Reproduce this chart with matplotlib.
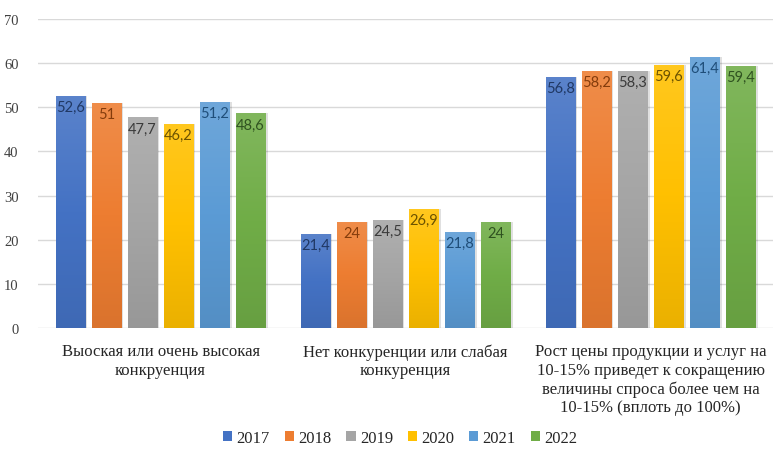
import matplotlib
matplotlib.use("Agg")
import matplotlib.pyplot as plt
import matplotlib.colors as mcolors
import numpy as np

# Data
categories = [
    "Выоская или очень высокая\nконкруенция",
    "Нет конкуренции или слабая\nконкуренция",
    "Рост цены продукции и услуг на\n10-15% приведет к сокращению\nвеличины спроса более чем на\n10-15% (вплоть до 100%)",
]
years = ["2017", "2018", "2019", "2020", "2021", "2022"]
values = {
    "2017": [52.6, 21.4, 56.8],
    "2018": [51.0, 24.0, 58.2],
    "2019": [47.7, 24.5, 58.3],
    "2020": [46.2, 26.9, 59.6],
    "2021": [51.2, 21.8, 61.4],
    "2022": [48.6, 24.0, 59.4],
}
value_labels = {
    "2017": ["52,6", "21,4", "56,8"],
    "2018": ["51", "24", "58,2"],
    "2019": ["47,7", "24,5", "58,3"],
    "2020": ["46,2", "26,9", "59,6"],
    "2021": ["51,2", "21,8", "61,4"],
    "2022": ["48,6", "24", "59,4"],
}

colors = ["#4472C4", "#ED7D31", "#A5A5A5", "#FFC000", "#5B9BD5", "#70AD47"]
label_colors = ["#203864", "#843C0C", "#3B3B3B", "#6B5200", "#1F4E79", "#2F5220"]

serif = ["Liberation Serif", "DejaVu Serif"]

fig = plt.figure(figsize=(7.77, 4.52), dpi=100)
ax = fig.add_axes([0.049, 0.272, 0.946, 0.684])

x = np.arange(len(categories))
step = 0.147
width = 0.122


def shade(color, f):
    r, g, b = mcolors.to_rgb(color)
    if f >= 0:
        return (r + (1 - r) * f, g + (1 - g) * f, b + (1 - b) * f)
    return (r * (1 + f), g * (1 + f), b * (1 + f))


for i, (year, col) in enumerate(zip(years, colors)):
    pos = x + (i - 2.5) * step
    vals = values[year]
    # soft drop shadow
    ax.bar(pos + 0.008, vals, width, color="#000000", alpha=0.12, zorder=2,
           linewidth=0)
    bars = ax.bar(pos, vals, width, color=col, label=year, zorder=3,
                  linewidth=0)
    # vertical gradient: lighter at top, slightly darker at bottom
    cmap = mcolors.LinearSegmentedColormap.from_list(
        "g" + year, [shade(col, -0.08), col, shade(col, 0.12)])
    grad = np.linspace(0, 1, 256).reshape(-1, 1)
    for b, v in zip(bars, vals):
        im = ax.imshow(grad, cmap=cmap, origin="lower", aspect="auto",
                       extent=[b.get_x(), b.get_x() + width, 0, v], zorder=4)
        im.set_clip_path(b)
    for p, v, t in zip(pos, vals, value_labels[year]):
        ax.text(p, v - 2.5, t, ha="center", va="center", fontsize=10.5,
                family=["Lato", "DejaVu Sans"], color=label_colors[i],
                zorder=5)

ax.set_xlim(-0.5, 2.5)
ax.set_ylim(0, 70)
ax.set_yticks(range(0, 71, 10))
ax.set_yticklabels([str(v) for v in range(0, 71, 10)], family=serif,
                   fontsize=10.5, color="#404040")
ax.set_xticks(x)
ax.set_xticklabels(categories, family=serif, fontsize=12, color="#262626",
                   linespacing=1.2, va="top")
ax.tick_params(axis="both", length=0)
ax.tick_params(axis="x", pad=11)
ax.tick_params(axis="y", pad=14)
ax.grid(axis="y", color="#D9D9D9", linewidth=1.0, zorder=0)
ax.set_axisbelow(True)
for s in ax.spines.values():
    s.set_visible(False)

leg = fig.legend(loc="lower center", bbox_to_anchor=(0.515, -0.022), ncol=6,
                 frameon=False, prop={"family": serif, "size": 12},
                 handlelength=0.55, handleheight=0.55, handletextpad=0.25,
                 columnspacing=0.9)
for t in leg.get_texts():
    t.set_color("#262626")

fig.savefig("out.png", dpi=100)
